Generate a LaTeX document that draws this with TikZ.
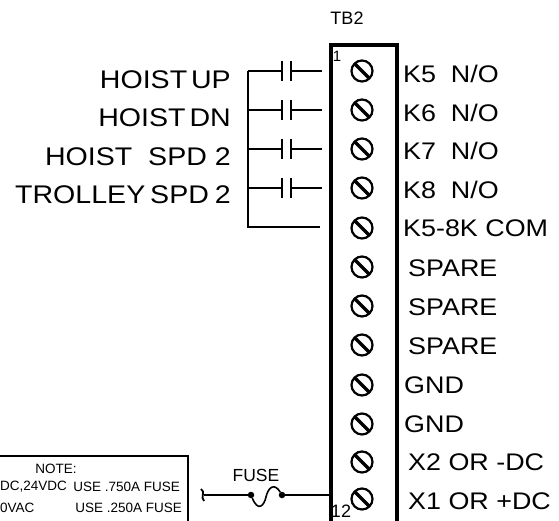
\documentclass[tikz,border=0pt]{standalone}
\usepackage{fontspec}
\setmainfont{Liberation Sans}
\newfontfamily\widefont[FakeStretch=1.12]{Liberation Sans}
\begin{document}
\begin{tikzpicture}[x=1pt,y=-1pt]
            \tikzstyle{wire}=[line width=1.5pt]
            \tikzstyle{screw}=[circle,draw,line width=2.2pt,minimum size=21pt,inner sep=0,path picture={\draw[line width=3.4pt] (path picture bounding box.north west) -- (path picture bounding box.south east);}]
            \tikzstyle{term label}=[anchor=west,inner sep=0,font=\widefont\fontsize{24}{26}\selectfont]
            \tikzstyle{relay label}=[anchor=east,inner sep=0,font=\widefont\fontsize{25.5}{26}\selectfont]
            \tikzstyle{note text}=[inner sep=0,font=\fontsize{13.5}{14}\selectfont]
            \tikzstyle{fuse end}=[circle,fill=black,inner sep=0,minimum size=6.5pt]

            \useasboundingbox (0,0) rectangle (559,521);
            \clip (0,0) rectangle (559,521);

            % terminal block
            \draw[line width=3.5pt] (331,535) -- (331,45) -- (397,45) -- (397,535);
            \node(tb)[inner sep=0,font=\fontsize{18}{20}\selectfont] at (347,18) {TB2};
            \node(first)[inner sep=0,font=\fontsize{15}{16}\selectfont] at (337,56) {1};
            \node(last)[inner sep=0,font=\fontsize{18}{20}\selectfont] at (341,511) {12};

            \foreach \n/\y in {1/71,2/110,3/149,4/188,5/228,6/267,7/306,8/345,9/385,10/424,11/462,12/499}
                \node(s\n)[screw] at (362,\y) {};

            \node(t1)[term label] at (403,74) {K5\ \ N/O};
            \node(t2)[term label] at (403,113) {K6\ \ N/O};
            \node(t3)[term label] at (403,151) {K7\ \ N/O};
            \node(t4)[term label] at (403,190) {K8\ \ N/O};
            \node(t5)[term label] at (403,228) {K5-8K COM};
            \node(t6)[term label] at (408,268) {SPARE};
            \node(t7)[term label] at (408,307) {SPARE};
            \node(t8)[term label] at (408,346) {SPARE};
            \node(t9)[term label] at (404,385) {GND};
            \node(t10)[term label] at (404,424) {GND};
            \node(t11)[term label] at (408,462) {X2 OR -DC};
            \node(t12)[term label] at (408,501) {X1 OR +DC};

            % relay contacts
            \node(r1)[relay label] at (231,80) {HOIST\hspace{-4pt} UP};
            \node(r2)[relay label] at (231,118) {HOIST\hspace{-4pt} DN};
            \node(r3)[relay label] at (231,157) {HOIST\ \ SPD 2};
            \node(r4)[relay label] at (231,195) {TROLLEY\hspace{-3pt} SPD\hspace{-2pt} 2};

            \foreach \n/\y in {1/71,2/110,3/149,4/188}{
                \coordinate(b\n) at (248,\y);
                \coordinate(l\n) at (282,\y);
                \coordinate(c\n) at (291,\y);
                \coordinate(e\n) at (322,\y);
                \draw[wire] (b\n) -- (l\n);
                \draw[wire] (c\n) -- (e\n);
                \draw[wire] ([yshift=-10pt]l\n) -- ([yshift=10pt]l\n);
                \draw[wire] ([yshift=-10pt]c\n) -- ([yshift=10pt]c\n);
            }
            \coordinate(e5) at (320,227);
            \draw[wire,line width=1.8pt] (b1) -- (248,227) -- (e5);

            % note box
            \draw[line width=1.1pt] (-5,456) -- (188,456) -- (188,530);
            \node(note)[note text] at (56,469) {NOTE:};
            \node(dc)[note text,anchor=west] at (0,487) {DC,24VDC};
            \node(use1)[note text,anchor=east] at (180,487) {USE .750A FUSE};
            \node(ac)[note text,anchor=west] at (0,508) {0VAC};
            \node(use2)[note text,anchor=east] at (182,508) {USE .250A FUSE};

            % fuse
            \node(fuse)[inner sep=0,font=\fontsize{17.5}{18}\selectfont] at (256,475) {FUSE};
            \node(f1)[fuse end] at (251,495) {};
            \node(f2)[fuse end] at (282,495) {};
            \coordinate(w) at (204,495);
            \draw[wire] (w) -- (f1);
            \draw[wire] (f2) -- (331,495);
            \draw[line width=1.6pt] (f1) .. controls (258,512) and (264,506) .. (266,497) .. controls (268,488) and (274,482) .. (f2);
            \draw[line width=1.8pt] (201,489) .. controls (206,492) and (200,497) .. (204,501);
        \end{tikzpicture}
\end{document}
